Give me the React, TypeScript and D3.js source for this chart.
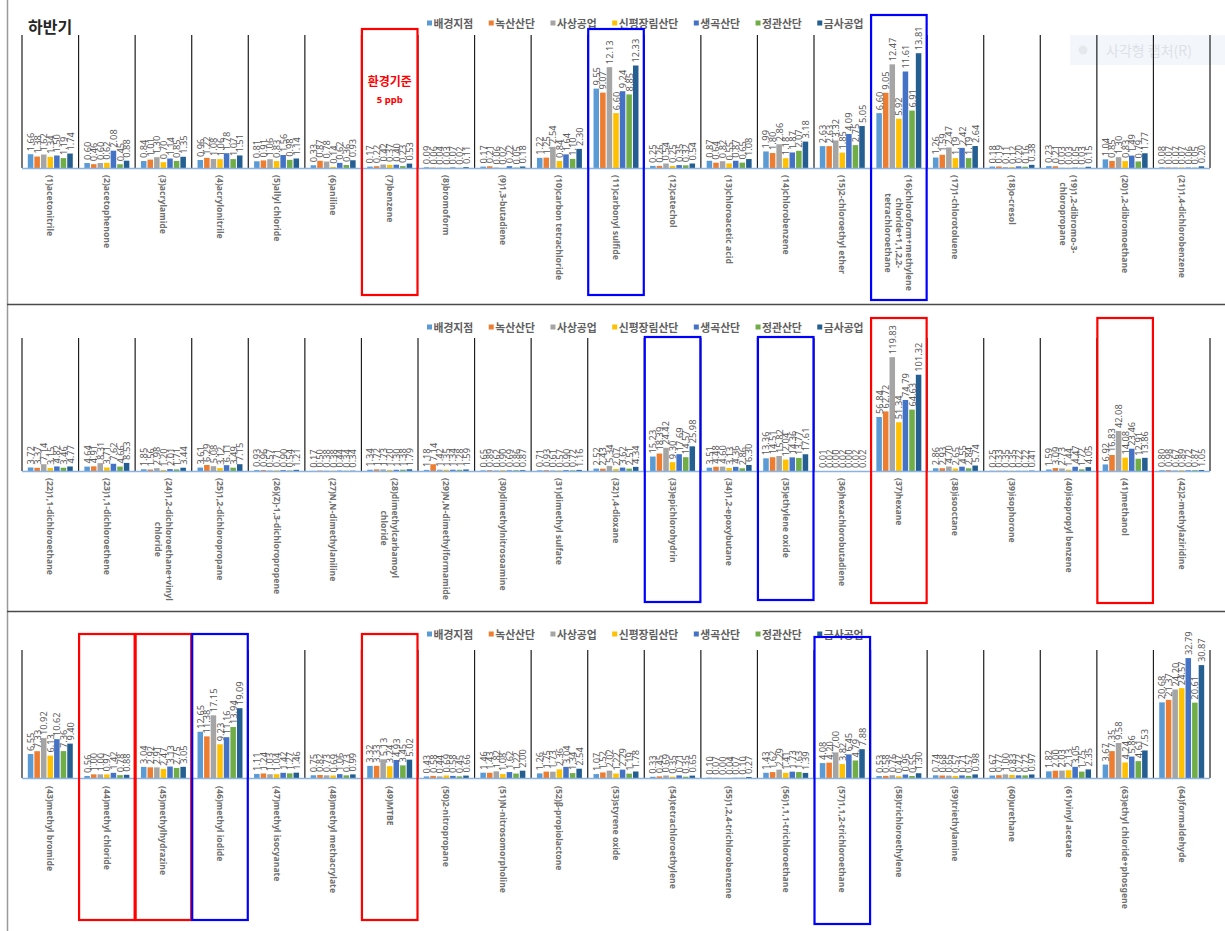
import React, { useEffect, useRef } from 'react';
import * as d3 from 'd3';

const W = 1225;
const H = 931;

const seriesNames = ['배경지점', '녹산산단', '사상공업', '신평장림산단', '생곡산단', '정관산단', '금사공업'];
const seriesColors = ['#5b9bd5', '#ed7d31', '#a5a5a5', '#ffc000', '#4472c4', '#70ad47', '#255e91'];

const panel1Categories = [
  '(1)acetonitrile', '(2)acetophenone', '(3)acrylamide', '(4)acrylonitrile', '(5)allyl chloride',
  '(6)aniline', '(7)benzene', '(8)bromoform', '(9)1,3-butadiene', '(10)carbon tetrachloride',
  '(11)carbonyl sulfide', '(12)catechol', '(13)chloroacetic acid', '(14)chlorobenzene',
  '(15)2-chloroethyl ether', '(16)chloroform+methylene\nchloride+1,1,2,2-\ntetrachloroethane',
  '(17)1-chlorotoluene', '(18)o-cresol', '(19)1,2-dibromo-3-\nchloropropane', '(20)1,2-dibromoethane',
  '(21)1,4-dichlorobenzene',
];
const panel1Values = [
  [1.66, 1.38, 1.62, 1.34, 1.50, 1.19, 1.74],
  [0.60, 0.46, 0.60, 0.62, 2.08, 0.45, 0.88],
  [0.84, 1.01, 1.30, 0.70, 1.14, 0.85, 1.35],
  [0.96, 1.22, 1.08, 1.06, 1.78, 1.07, 1.51],
  [0.81, 0.91, 1.06, 0.83, 1.56, 0.98, 1.14],
  [0.33, 0.87, 0.78, 0.14, 0.62, 0.36, 0.93],
  [0.17, 0.22, 0.42, 0.37, 0.40, 0.23, 0.53],
  [0.09, 0.06, 0.04, 0.03, 0.07, 0.02, 0.11],
  [0.17, 0.21, 0.06, 0.02, 0.22, 0.05, 0.18],
  [1.22, 1.25, 2.54, 0.84, 1.64, 1.10, 2.30],
  [9.55, 9.07, 12.13, 6.60, 9.24, 8.85, 12.33],
  [0.25, 0.26, 0.54, 0.25, 0.35, 0.32, 0.54],
  [0.87, 0.64, 0.82, 0.55, 0.87, 0.65, 1.08],
  [1.99, 1.80, 2.86, 1.18, 1.87, 2.07, 3.18],
  [2.63, 2.63, 3.32, 1.85, 4.09, 2.75, 5.05],
  [6.60, 9.05, 12.47, 5.92, 11.61, 6.91, 13.81],
  [1.26, 1.59, 2.47, 1.19, 2.42, 1.19, 2.64],
  [0.18, 0.19, 0.11, 0.12, 0.20, 0.16, 0.38],
  [0.23, 0.21, 0.03, 0.03, 0.05, 0.03, 0.15],
  [1.04, 0.85, 1.30, 0.83, 1.49, 0.79, 1.77],
  [0.08, 0.07, 0.07, 0.07, 0.06, 0.05, 0.20],
];

const panel2Categories = [
  '(22)1,1-dichloroethane', '(23)1,1-dichloroethene', '(24)1,2-dichloroethane+vinyl\nchloride',
  '(25)1,2-dichloropropane', '(26)(Z)-1,3-dichloropropene', '(27)N,N-dimethylaniline',
  '(28)dimethylcarbamoyl\nchloride', '(29)N,N-dimethylformamide', '(30)dimethylnitrosoamine',
  '(31)dimethyl sulfate', '(32)1,4-dioxane', '(33)epichlorohydrin', '(34)1,2-epoxybutane',
  '(35)ethylene oxide', '(36)hexachlorobutadiene', '(37)hexane', '(38)isooctane', '(39)isophorone',
  '(40)isopropyl benzene', '(41)methanol', '(42)2-methylaziridine',
];
const panel2Values = [
  [3.72, 3.37, 7.14, 3.15, 4.82, 3.46, 4.77],
  [4.64, 4.91, 8.31, 3.71, 7.62, 4.66, 8.53],
  [1.85, 1.56, 2.98, 1.20, 2.01, 1.71, 3.44],
  [3.61, 6.29, 5.08, 3.12, 6.11, 3.49, 7.15],
  [0.93, 0.96, 0.57, 0.71, 0.90, 0.54, 1.21],
  [0.17, 0.50, 0.38, 0.38, 0.44, 0.34, 0.34],
  [1.34, 1.72, 1.73, 1.20, 1.30, 1.38, 1.79],
  [1.18, 7.14, 1.42, 1.35, 1.34, 1.28, 1.59],
  [0.65, 0.89, 0.62, 0.90, 0.69, 0.86, 0.87],
  [0.71, 0.93, 0.61, 0.57, 0.90, 0.72, 1.16],
  [2.52, 2.43, 5.34, 2.07, 3.62, 2.51, 4.34],
  [15.23, 18.39, 24.42, 9.30, 17.69, 14.57, 25.98],
  [3.51, 4.48, 4.60, 3.13, 4.36, 2.86, 6.30],
  [13.36, 14.51, 15.82, 12.04, 14.36, 13.77, 17.61],
  [0.01, 0.02, 0.00, 0.02, 0.00, 0.02, 0.02],
  [56.84, 62.72, 119.83, 51.34, 74.79, 64.63, 101.32],
  [2.86, 2.93, 4.70, 2.65, 4.55, 2.84, 5.74],
  [0.25, 0.33, 0.35, 0.35, 0.22, 0.22, 0.41],
  [1.59, 3.09, 2.73, 1.44, 4.47, 1.72, 4.05],
  [6.92, 16.83, 42.08, 14.08, 23.46, 12.91, 13.86],
  [0.80, 0.98, 0.67, 0.89, 0.72, 0.87, 1.05],
];

const panel3Categories = [
  '(43)methyl bromide', '(44)methyl chloride', '(45)methylhydrazine', '(46)methyl iodide',
  '(47)methyl isocyanate', '(48)methyl methacrylate', '(49)MTBE', '(50)2-nitropropane',
  '(51)N-nitrosomorpholine', '(52)β-propiolactone', '(53)styrene oxide', '(54)tetrachloroethylene',
  '(55)1,2,4-trichlorobenzene', '(56)1,1,1-trichloroethane', '(57)1,1,2-trichloroethane',
  '(58)trichloroethylene', '(59)triethylamine', '(60)urethane', '(61)vinyl acetate',
  '(63)ethyl chloride+phosgene', '(64)formaldehyde',
];
const panel3Values = [
  [6.55, 7.33, 10.92, 6.13, 10.62, 7.36, 9.40],
  [0.56, 1.00, 1.00, 0.97, 1.42, 0.78, 0.88],
  [3.04, 2.92, 2.91, 2.47, 3.13, 2.75, 3.05],
  [12.65, 11.38, 17.15, 9.23, 11.16, 13.94, 19.09],
  [1.11, 1.24, 1.03, 1.04, 1.42, 1.27, 1.46],
  [0.75, 0.82, 0.73, 0.69, 1.06, 0.73, 0.99],
  [3.32, 3.33, 5.13, 3.24, 4.93, 3.45, 5.02],
  [0.43, 0.58, 0.44, 0.69, 0.58, 0.45, 0.66],
  [1.46, 1.43, 1.82, 1.08, 1.62, 1.22, 2.00],
  [1.26, 1.75, 1.73, 2.36, 3.04, 1.34, 2.54],
  [1.07, 1.52, 2.02, 1.22, 2.29, 1.19, 1.78],
  [0.33, 0.45, 0.69, 0.35, 0.71, 0.35, 0.65],
  [0.10, 0.07, 0.00, 0.04, 0.07, 0.10, 0.27],
  [1.43, 1.62, 2.29, 1.41, 1.73, 1.63, 1.39],
  [4.08, 4.20, 7.00, 3.82, 6.45, 4.79, 7.88],
  [0.53, 0.58, 0.76, 0.47, 0.95, 0.55, 1.30],
  [0.74, 0.68, 0.65, 0.57, 0.71, 0.57, 0.98],
  [0.67, 0.77, 1.00, 0.83, 0.72, 0.72, 0.97],
  [1.82, 2.00, 2.03, 2.13, 3.05, 1.75, 2.35],
  [3.67, 7.35, 9.58, 4.24, 5.86, 4.61, 7.53],
  [20.68, 21.37, 24.20, 24.57, 32.79, 20.61, 30.87],
];

// highlighted categories: [panel index, category index, colour]
const highlightCategories: [number, number, string][] = [
  [0, 6, '#ff0000'], [0, 10, '#0000ff'], [0, 15, '#0000ff'],
  [1, 11, '#0000ff'], [1, 13, '#0000ff'], [1, 15, '#ff0000'], [1, 19, '#ff0000'],
  [2, 1, '#ff0000'], [2, 2, '#ff0000'], [2, 3, '#0000ff'], [2, 6, '#ff0000'], [2, 14, '#0000ff'],
];
const highlightVertical: [number, number][] = [
  [29, 295], [29, 295], [15, 300],
  [337, 602], [337, 600], [318, 603], [318, 603],
  [634, 920], [634, 920], [634, 920], [634, 920], [637, 924],
];

const FONT = "'Noto Sans','Noto Sans CJK KR',sans-serif";
const KFONT = "'Noto Sans CJK KR','Noto Sans',sans-serif";

export default function App() {
  const ref = useRef<SVGSVGElement>(null);

  useEffect(() => {
    const svg = d3.select(ref.current);
    svg.selectAll('*').remove();
    svg.append('rect').attr('width', W).attr('height', H).attr('fill', '#ffffff');

    // faint screen-capture overlay (present in the source screenshot)
    const ov = svg.append('g');
    ov.append('rect').attr('x', 1070).attr('y', 35).attr('width', 155).attr('height', 30).attr('fill', '#f3f7fc');
    ov.append('circle').attr('cx', 1083).attr('cy', 50).attr('r', 4.5).attr('fill', '#e6e9ec');
    ov.append('text').attr('x', 1106).attr('y', 50).attr('dominant-baseline', 'central')
      .attr('font-family', KFONT).attr('font-size', 14).attr('fill', '#dde1e6').text('사각형 캡처(R)');

    const X0 = 22, X1 = 1210;
    const panels = [
      { cats: panel1Categories, vals: panel1Values, max: 16, top: 35, base: 168, legendY: 23, labelY: 175 },
      { cats: panel2Categories, vals: panel2Values, max: 140, top: 338, base: 471, legendY: 327, labelY: 478 },
      { cats: panel3Categories, vals: panel3Values, max: 35, top: 650, base: 778, legendY: 634, labelY: 786 },
    ];

    const xScales: d3.ScaleBand<string>[] = [];

    panels.forEach((p) => {
      const g = svg.append('g');
      const x = d3.scaleBand<string>().domain(p.cats).range([X0, X1]).paddingInner(0).paddingOuter(0);
      xScales.push(x);
      const step = x.step();
      const xs = d3.scaleBand<string>().domain(seriesNames).range([5.8, step - 5.8]).paddingInner(0.16);
      const y = d3.scaleLinear().domain([0, p.max]).range([p.base, p.top]);

      // legend
      const lg = g.append('g');
      let cx = 427;
      seriesNames.forEach((name, i) => {
        lg.append('rect').attr('x', cx).attr('y', p.legendY - 2.5).attr('width', 5).attr('height', 5)
          .attr('fill', seriesColors[i]);
        const t = lg.append('text').attr('x', cx + 6.5).attr('y', p.legendY).attr('dominant-baseline', 'central')
          .attr('font-family', KFONT).attr('font-size', 10.8).attr('font-weight', 'bold').attr('fill', '#5f5f5f')
          .text(name);
        const len = (t.node() as SVGTextElement).getComputedTextLength();
        cx = cx + 6.5 + len + 15.5;
      });

      // category separators
      const edges = d3.range(p.cats.length + 1).map((i) => X0 + i * step);
      g.selectAll('line.sep').data(edges).join('line').attr('class', 'sep')
        .attr('x1', (d) => d).attr('x2', (d) => d).attr('y1', p.top).attr('y2', p.base)
        .attr('stroke', '#1e1e1e').attr('stroke-width', 1.2);

      // bars
      p.cats.forEach((c, ci) => {
        const bx = x(c) as number;
        const rows = p.vals[ci].map((v, si) => ({ v, si }));
        g.selectAll(null).data(rows).join('rect')
          .attr('x', (d) => bx + (xs(seriesNames[d.si]) as number))
          .attr('width', xs.bandwidth())
          .attr('y', (d) => y(d.v))
          .attr('height', (d) => p.base - y(d.v))
          .attr('fill', (d) => seriesColors[d.si]);
        g.selectAll(null).data(rows).join('text')
          .attr('transform', (d) => `translate(${bx + (xs(seriesNames[d.si]) as number) + xs.bandwidth() / 2},${y(d.v) - 3}) rotate(-90)`)
          .attr('dominant-baseline', 'central')
          .attr('font-family', FONT).attr('font-size', 9.3).attr('fill', '#595959')
          .text((d) => d.v.toFixed(2));
      });

      // baseline
      g.append('line').attr('x1', X0).attr('x2', X1).attr('y1', p.base + 0.5).attr('y2', p.base + 0.5)
        .attr('stroke', '#8db3e2').attr('stroke-width', 1.4);

      // category labels
      p.cats.forEach((c) => {
        const lines = c.split('\n');
        const cg = g.append('g')
          .attr('transform', `translate(${(x(c) as number) + step / 2},${p.labelY}) rotate(90)`);
        const lh = 10.5;
        const texts = lines.map((ln, j) =>
          cg.append('text').attr('x', 0).attr('y', (j - (lines.length - 1) / 2) * lh)
            .attr('dominant-baseline', 'central')
            .attr('font-family', FONT).attr('font-size', 8.7).attr('font-weight', 'bold').attr('fill', '#6e6e6e')
            .text(ln));
        const lens = texts.map((t) => (t.node() as SVGTextElement).getComputedTextLength());
        const maxLen = d3.max(lens) as number;
        texts.forEach((t, j) => t.attr('x', (maxLen - lens[j]) / 2));
      });
    });

    // frame lines
    svg.append('line').attr('x1', 7.5).attr('x2', 7.5).attr('y1', 0).attr('y2', H)
      .attr('stroke', '#9a9a9a').attr('stroke-width', 1.5);
    [304.5, 611.5].forEach((yy) =>
      svg.append('line').attr('x1', 7).attr('x2', W).attr('y1', yy).attr('y2', yy)
        .attr('stroke', '#4a4a4a').attr('stroke-width', 1.5));

    // title
    svg.append('text').attr('x', 28).attr('y', 33).attr('font-family', KFONT).attr('font-size', 16)
      .attr('font-weight', 'bold').attr('fill', '#262626').text('하반기');

    // highlight boxes
    highlightCategories.forEach(([pi, ci, col], k) => {
      const x = xScales[pi];
      const c = panels[pi].cats[ci];
      const [y0, y1] = highlightVertical[k];
      svg.append('rect').attr('x', (x(c) as number) + 0.5).attr('y', y0)
        .attr('width', x.step() - 1).attr('height', y1 - y0)
        .attr('fill', 'none').attr('stroke', col).attr('stroke-width', 2.2);
    });

    // environmental standard note on benzene
    const bx = (xScales[0](panel1Categories[6]) as number) + xScales[0].step() / 2;
    svg.append('text').attr('x', bx).attr('y', 80).attr('text-anchor', 'middle').attr('dominant-baseline', 'central')
      .attr('font-family', KFONT).attr('font-size', 12).attr('font-weight', 'bold').attr('fill', '#ff0000')
      .text('환경기준');
    svg.append('text').attr('x', bx).attr('y', 99).attr('text-anchor', 'middle').attr('dominant-baseline', 'central')
      .attr('font-family', FONT).attr('font-size', 9.5).attr('font-weight', 'bold').attr('fill', '#ff0000')
      .text('5 ppb');
  }, []);

  return (
    <svg ref={ref} width={W} height={H}
      style={{ position: 'absolute', left: 0, top: 0, display: 'block', background: '#fff' }} />
  );
}
